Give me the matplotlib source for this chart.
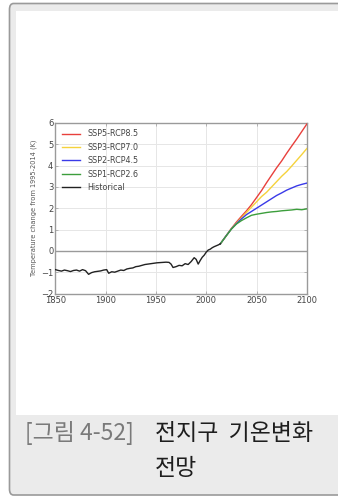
import matplotlib
matplotlib.use("Agg")
import matplotlib.pyplot as plt
from matplotlib.patches import Rectangle, FancyBboxPatch

# ---- data -----------------------------------------------------------------
hist_years = [1850, 1853, 1856, 1859, 1862, 1865, 1868, 1871, 1874, 1877,
              1880, 1883, 1886, 1889, 1892, 1895, 1898, 1901, 1903, 1906,
              1909, 1912, 1915, 1918, 1921, 1924, 1927, 1930, 1933, 1936,
              1939, 1942, 1945, 1948, 1951, 1954, 1957, 1960, 1963, 1965,
              1967, 1970, 1973, 1976, 1979, 1982, 1985, 1988, 1990, 1992,
              1994, 1996, 1998, 2000, 2002, 2004, 2006, 2008, 2010, 2012,
              2014]
hist_vals = [-0.88, -0.92, -0.95, -0.90, -0.93, -0.97, -0.92, -0.90, -0.95, -0.88,
             -0.93, -1.10, -1.02, -0.98, -0.96, -0.94, -0.90, -0.88, -1.05, -0.98,
             -1.00, -0.95, -0.90, -0.92, -0.85, -0.82, -0.80, -0.74, -0.72, -0.68,
             -0.64, -0.62, -0.60, -0.58, -0.56, -0.55, -0.54, -0.53, -0.54, -0.62,
             -0.78, -0.74, -0.68, -0.70, -0.60, -0.64, -0.50, -0.32, -0.40, -0.62,
             -0.45, -0.30, -0.20, -0.06, 0.04, 0.08, 0.15, 0.20, 0.24, 0.28,
             0.33]

proj_years = [2014, 2020, 2025, 2030, 2035, 2040, 2045, 2050, 2055, 2060,
              2065, 2070, 2075, 2080, 2085, 2090, 2095, 2100]
ssp585 = [0.33, 0.72, 1.05, 1.35, 1.62, 1.88, 2.17, 2.50, 2.83, 3.20,
          3.55, 3.90, 4.22, 4.58, 4.92, 5.25, 5.60, 5.95]
ssp370 = [0.33, 0.72, 1.04, 1.30, 1.55, 1.80, 2.05, 2.30, 2.55, 2.75,
          3.00, 3.25, 3.50, 3.72, 3.98, 4.25, 4.52, 4.80]
ssp245 = [0.33, 0.72, 1.03, 1.28, 1.50, 1.70, 1.85, 2.00, 2.15, 2.30,
          2.45, 2.60, 2.72, 2.85, 2.95, 3.05, 3.12, 3.18]
ssp126 = [0.33, 0.71, 1.02, 1.26, 1.42, 1.55, 1.67, 1.72, 1.76, 1.80,
          1.83, 1.85, 1.88, 1.90, 1.92, 1.95, 1.93, 1.97]

series = [
    ("SSP5-RCP8.5", ssp585, "#e8403c"),
    ("SSP3-RCP7.0", ssp370, "#f5d23c"),
    ("SSP2-RCP4.5", ssp245, "#3a3ae8"),
    ("SSP1-RCP2.6", ssp126, "#3c9e3c"),
]

x_ticks = [1850, 1900, 1950, 2000, 2050, 2100]
y_ticks = [-2, -1, 0, 1, 2, 3, 4, 5, 6]

caption_num = "[그림 4-52]"
caption_title = "전지구  기온변화"
caption_line2 = "전망"

# ---- figure / card --------------------------------------------------------
W, H = 338, 498
fig = plt.figure(figsize=(W / 100, H / 100), dpi=100)
fig.patch.set_facecolor("white")

def px(x, y, w, h):
    """pixel box (top-left origin) -> figure fraction rect"""
    return (x / W, 1 - (y + h) / H, w / W, h / H)

# card background with rounded corner and grey border (runs past the right edge)
card = FancyBboxPatch((9.5 / W, 1 - 495 / H), (360 - 9.5) / W, (495 - 3.5) / H,
                      boxstyle="round,pad=0,rounding_size=0.012",
                      transform=fig.transFigure, facecolor="#ebebeb",
                      edgecolor="#9a9a9a", linewidth=1.2, zorder=0)
fig.patches.append(card)
# white panel
l, b, w, h = px(16, 11, 340, 404)
fig.patches.append(Rectangle((l, b), w, h, transform=fig.transFigure,
                             facecolor="white", edgecolor="none", zorder=1))

# ---- chart ----------------------------------------------------------------
ax = fig.add_axes(px(55.4, 123.0, 251.4, 170.5))
ax.set_zorder(2)
ax.set_facecolor("white")

ax.plot(hist_years, hist_vals, color="#222222", lw=1.0, label="Historical", zorder=5)
for name, vals, col in series:
    ax.plot(proj_years, vals, color=col, lw=1.0, label=name, zorder=4)

ax.axhline(0, color="#9a9a9a", lw=1.0, zorder=2)
ax.set_xlim(1850, 2100)
ax.set_ylim(-2, 6)
ax.set_xticks(x_ticks)
ax.set_yticks(y_ticks)
ax.grid(True, color="#e6e6e6", lw=0.7, zorder=0)
ax.tick_params(direction="in", length=2.5, width=0.6, colors="#aaaaaa",
               labelcolor="#444444", labelsize=6, pad=1.5,
               top=True, right=True)
for s in ax.spines.values():
    s.set_color("#9a9a9a")
    s.set_linewidth(1.0)
ax.set_ylabel("Temperature change from 1995-2014 (K)", fontsize=4.8,
              color="#555555", labelpad=3)

handles, labels = ax.get_legend_handles_labels()
order = [1, 2, 3, 4, 0]
leg = ax.legend([handles[i] for i in order], [labels[i] for i in order],
                loc="upper left", frameon=False, fontsize=5.8,
                handlelength=2.2, handletextpad=1.0, labelspacing=0.55,
                borderaxespad=0.4, labelcolor="#444444")

# ---- caption --------------------------------------------------------------
kfont = ["Noto Sans CJK KR", "DejaVu Sans"]
fig.text(25 / W, 1 - 433 / H, caption_num, family=kfont, fontsize=16.5,
         color="#7a7a7a", va="center", ha="left", fontweight="light", zorder=3)
fig.text(155 / W, 1 - 433 / H, caption_title, family=kfont, fontsize=16.5,
         color="#1e1e1e", va="center", ha="left", zorder=3)
fig.text(176 / W, 1 - 468 / H, caption_line2, family=kfont, fontsize=16.5,
         color="#1e1e1e", va="center", ha="center", zorder=3)

fig.savefig("out.png", dpi=100, facecolor=fig.get_facecolor())
